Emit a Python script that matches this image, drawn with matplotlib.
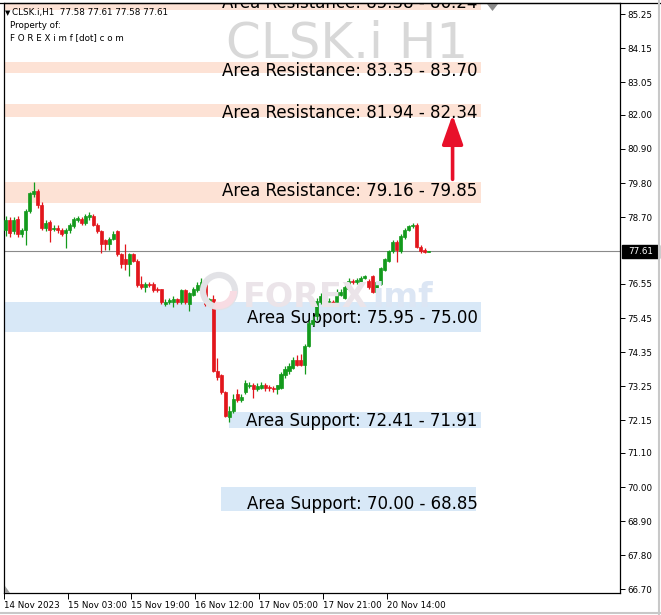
import matplotlib
matplotlib.use('Agg')
import matplotlib.pyplot as plt
import matplotlib.transforms as mtransforms
from matplotlib.patches import Rectangle, Polygon, Circle, Wedge
from matplotlib.lines import Line2D

# ---------------- data ----------------
opens = [78.30, 78.60, 78.25, 78.65, 78.15, 78.30, 78.90, 79.45, 79.55, 79.10,
         78.35, 78.55, 78.32, 78.35, 78.28, 78.20, 78.30, 78.40, 78.62, 78.65,
         78.50, 78.70, 78.75, 78.45, 78.25, 77.95, 77.85, 78.00, 78.25, 77.50,
         77.35, 77.20, 77.50, 77.30, 76.55, 76.45, 76.55, 76.55, 76.38, 76.38,
         75.90, 75.95, 75.98, 76.05, 75.95, 76.35, 75.90, 76.20, 76.35, 76.40,
         76.55, 75.90, 76.05, 73.75, 73.60, 73.05, 72.25, 72.45, 73.00, 72.80,
         73.05, 73.25, 73.30, 73.15, 73.20, 73.30, 73.22, 73.20, 73.15, 73.20,
         73.60, 73.75, 73.85, 74.10, 74.10, 73.95, 74.55, 75.25, 75.50, 75.95,
         76.10, 75.95, 75.97, 75.95, 76.20, 76.10, 76.40, 76.65, 76.60, 76.60,
         76.75, 76.65, 76.80, 76.30, 76.55, 77.00, 77.30, 77.60, 77.90, 77.60,
         78.05, 78.30, 78.40, 78.45, 77.75, 77.65, 77.58]
highs = [78.75, 78.70, 78.70, 78.75, 78.35, 78.95, 79.50, 79.83, 79.60, 79.20,
         78.60, 78.60, 78.45, 78.45, 78.35, 78.35, 78.50, 78.70, 78.75, 78.70,
         78.80, 78.87, 78.80, 78.50, 78.30, 78.00, 78.05, 78.25, 78.30, 77.55,
         77.85, 77.55, 77.55, 77.35, 76.80, 76.60, 76.60, 76.60, 76.45, 76.40,
         76.05, 76.10, 76.15, 76.10, 76.40, 76.40, 76.30, 76.45, 76.60, 76.75,
         76.60, 76.10, 76.20, 74.15, 73.65, 73.10, 72.60, 73.00, 73.15, 73.00,
         73.45, 73.40, 73.35, 73.35, 73.40, 73.35, 73.30, 73.25, 73.30, 73.70,
         73.90, 74.00, 74.20, 74.25, 74.30, 74.60, 75.40, 75.50, 76.10, 76.25,
         76.20, 76.10, 76.02, 76.40, 76.40, 76.50, 76.75, 76.70, 76.75, 76.80,
         76.85, 76.70, 76.85, 76.65, 77.10, 77.40, 77.65, 77.95, 77.95, 78.15,
         78.35, 78.45, 78.50, 78.50, 77.80, 77.70, 77.61]
lows = [78.10, 78.05, 78.15, 78.05, 78.05, 77.80, 78.85, 79.35, 79.00, 78.30,
        78.25, 77.90, 78.25, 78.20, 78.10, 77.70, 78.20, 78.35, 78.55, 78.45,
        78.45, 78.60, 78.40, 78.20, 77.55, 77.65, 77.65, 77.95, 77.45, 77.05,
        77.00, 76.80, 77.25, 76.45, 76.40, 76.30, 76.45, 76.30, 76.30, 75.90,
        75.85, 75.90, 75.80, 75.90, 75.90, 75.90, 75.68, 76.15, 76.30, 76.35,
        75.85, 75.85, 73.70, 73.45, 73.00, 72.25, 72.10, 72.40, 72.75, 72.75,
        73.00, 73.20, 72.87, 73.10, 73.15, 73.10, 73.10, 73.05, 73.00, 73.15,
        73.50, 73.65, 73.80, 73.90, 73.90, 73.65, 74.50, 75.20, 75.40, 75.90,
        75.85, 75.90, 75.92, 75.90, 76.15, 76.05, 76.35, 76.55, 76.55, 76.55,
        76.70, 76.40, 76.25, 76.25, 76.50, 76.95, 77.25, 77.55, 77.25, 77.55,
        78.00, 78.25, 78.35, 77.70, 77.55, 77.55, 77.58]
closes = [78.60, 78.20, 78.60, 78.15, 78.30, 78.90, 79.47, 79.55, 79.10, 78.35,
          78.50, 78.30, 78.35, 78.28, 78.15, 78.30, 78.45, 78.65, 78.68, 78.50,
          78.75, 78.78, 78.45, 78.25, 77.85, 77.85, 78.00, 78.15, 77.50, 77.20,
          77.20, 77.50, 77.30, 76.50, 76.45, 76.55, 76.50, 76.35, 76.35, 75.95,
          75.98, 76.02, 76.05, 75.95, 76.35, 75.95, 76.25, 76.40, 76.50, 76.60,
          75.90, 76.05, 73.75, 73.55, 73.05, 72.30, 72.45, 72.85, 72.80, 72.90,
          73.35, 73.30, 73.15, 73.25, 73.30, 73.20, 73.18, 73.15, 73.28, 73.65,
          73.80, 73.90, 74.10, 73.95, 73.95, 74.55, 75.30, 75.40, 76.00, 76.15,
          75.90, 76.00, 75.95, 76.30, 76.30, 76.45, 76.65, 76.60, 76.68, 76.75,
          76.80, 76.45, 76.30, 76.60, 77.05, 77.35, 77.60, 77.90, 77.65, 78.10,
          78.30, 78.40, 78.45, 77.75, 77.62, 77.58, 77.61]

x_labels = ["14 Nov 2023", "15 Nov 03:00", "15 Nov 19:00", "16 Nov 12:00",
            "17 Nov 05:00", "17 Nov 21:00", "20 Nov 14:00"]
x_label_bars = [0, 16, 32, 48, 64, 80, 96]
y_ticks = [85.25, 84.15, 83.05, 82.00, 80.90, 79.80, 78.70, 76.55, 75.45,
           74.35, 73.25, 72.15, 71.10, 70.00, 68.90, 67.80, 66.70]
current_price = 77.61

res_low = [85.38, 83.35, 81.94, 79.16]
res_high = [86.30, 83.70, 82.34, 79.85]
res_text_top = [85.90, 83.70, 82.34, 79.85]
res_labels = ["Area Resistance: 85.38 - 86.24", "Area Resistance: 83.35 - 83.70",
              "Area Resistance: 81.94 - 82.34", "Area Resistance: 79.16 - 79.85"]

sup_low = [75.00, 71.91, 69.22]
sup_high = [75.95, 72.41, 70.00]
sup_text_top = [75.75, 72.41, 69.76]
sup_start = [-1.0, 56.0, 54.0]
sup_end = [119.0, 119.0, 117.8]
sup_labels = ["Area Support: 75.95 - 75.00", "Area Support: 72.41 - 71.91",
              "Area Support: 70.00 - 68.85"]

header_lines = ["CLSK.i,H1  77.58 77.61 77.58 77.61", "Property of:",
                "F O R E X i m f [dot] c o m"]

# ---------------- figure ----------------
W, H = 661, 615
fig = plt.figure(figsize=(W / 100, H / 100), dpi=100)
fig.patch.set_facecolor('white')
ax = fig.add_axes([3.5 / W, (H - 593) / H, (620 - 3.5) / W, (593 - 3) / H])
ax.set_facecolor('white')
ax.set_xlim(-0.55, 153.96)
ax.set_ylim(66.585, 85.605)

GREEN = '#139a1c'
RED = '#e2161c'
RES_C = '#fde2d5'
SUP_C = '#d8e8f7'
zone_end = 119.0

for lo, hi in zip(res_low, res_high):
    ax.add_patch(Rectangle((-1.0, lo), zone_end + 1.0, hi - lo, fc=RES_C, ec='none', zorder=1))
for lo, hi, s, e in zip(sup_low, sup_high, sup_start, sup_end):
    ax.add_patch(Rectangle((s, lo), e - s, hi - lo, fc=SUP_C, ec='none', zorder=1))

# watermark logo (FOREXimf)
pix = mtransforms.IdentityTransform()
fig.patches.append(Circle((219, H - 291), 16, transform=pix, fc='none', ec='#e2e2e6', lw=4.5, zorder=1.5))
fig.patches.append(Wedge((219, H - 291), 18, 250, 360, width=7, transform=pix, fc='#f8dce3', ec='none', zorder=1.5))
fig.text(243 / W, 1 - 307 / H, "FOREX", fontsize=24, fontweight='bold', color='#ebe4e9',
         ha='left', va='baseline', zorder=1.6)
fig.text(372 / W, 1 - 307 / H, "imf", fontsize=24, fontweight='bold', color='#dce6f4',
         ha='left', va='baseline', zorder=1.6)

# watermark symbol
ax.text(0.558, 1 - 54 / 590, "CLSK.i H1", transform=ax.transAxes, fontsize=36,
        color='#d8d8d8', ha='center', va='baseline', zorder=1.2)

# current price line
ax.axhline(current_price, color='#8a8a8a', lw=0.8, zorder=2)

# zone labels
for lab, top in zip(res_labels, res_text_top):
    ax.text(118.3, top, lab, fontsize=12.0, color='black', ha='right', va='top',
            zorder=3, clip_on=True)
for lab, top in zip(sup_labels, sup_text_top):
    ax.text(118.3, top, lab, fontsize=12.0, color='black', ha='right', va='top',
            zorder=3, clip_on=True)

# candles
for i, (o, h, l, c) in enumerate(zip(opens, highs, lows, closes)):
    col = GREEN if c >= o else RED
    ax.vlines(i, l, h, color=col, lw=0.9, zorder=4)
    body = abs(c - o)
    if body < 0.03:
        ax.hlines((o + c) / 2, i - 0.45, i + 0.45, color='black' if body < 0.01 else col, lw=1.0, zorder=5)
    else:
        ax.add_patch(Rectangle((i - 0.38, min(o, c)), 0.76, body, fc=col, ec=col, lw=0.5, zorder=5))

# arrow
ax.annotate('', xy=(112.0, 82.0), xytext=(112.0, 79.92),
            arrowprops=dict(arrowstyle='-|>,head_length=0.9,head_width=0.32', color='#e8102a',
                            lw=2.6, mutation_scale=20, shrinkA=0, shrinkB=0), zorder=6)

# axes styling
for sp in ax.spines.values():
    sp.set_color('black')
    sp.set_linewidth(0.9)
ax.yaxis.tick_right()
ax.set_yticks(y_ticks)
ax.set_yticklabels([f"{v:.2f}" for v in y_ticks])
ax.tick_params(axis='y', direction='out', length=3.5, width=0.7, pad=1.5, labelsize=6.3,
               colors='black')
ax.set_xticks([b - 0.5 for b in x_label_bars])
ax.set_xticklabels(x_labels)
ax.tick_params(axis='x', direction='out', length=4, width=0.7, pad=2.0, labelsize=6.3,
               colors='black')
for t in ax.get_xticklabels():
    t.set_horizontalalignment('left')

# current price tag
blend = mtransforms.blended_transform_factory(ax.transAxes, ax.transData)
ax.add_patch(Rectangle((1.0 + 2 / 616.5, current_price - 6.5 / 31.02), 37 / 616.5, 13 / 31.02,
                       transform=blend, fc='black', ec='black', clip_on=False, zorder=7))
ax.text(1.0 + 20.5 / 616.5, current_price, f"{current_price:.2f}", transform=blend,
        fontsize=6.3, color='white', ha='center', va='center', clip_on=False, zorder=8)

# header
fig.text(5 / W, 1 - 13 / H, "\u25BC", fontsize=5, color='black', ha='left', va='center')
fig.text(12 / W, 1 - 13 / H, header_lines[0], fontsize=6.3, color='black', ha='left', va='center')
fig.text(10 / W, 1 - 25 / H, header_lines[1], fontsize=6.3, color='black', ha='left', va='center')
fig.text(10 / W, 1 - 38 / H, header_lines[2], fontsize=6.3, color='black', ha='left', va='center')

# chart shift markers / window frame
fig.patches.append(Polygon([[487, H - 4], [498, H - 4], [492.5, H - 11]], closed=True,
                           transform=pix, fc='#8c8c8c', ec='none'))
fig.patches.append(Polygon([[4.5, H - 586], [4.5, H - 592.5], [10, H - 592.5]], closed=True,
                           transform=pix, fc='#9a9a9a', ec='none'))
fig.lines.append(Line2D([0, W], [H - 3, H - 3], transform=pix, color='black', lw=0.9))
fig.lines.append(Line2D([659, 659], [0, H], transform=pix, color='#c8c8c8', lw=1.5))
fig.lines.append(Line2D([0, W], [2, 2], transform=pix, color='#c8c8c8', lw=1.5))

fig.savefig('out.png', dpi=100, facecolor='white')
